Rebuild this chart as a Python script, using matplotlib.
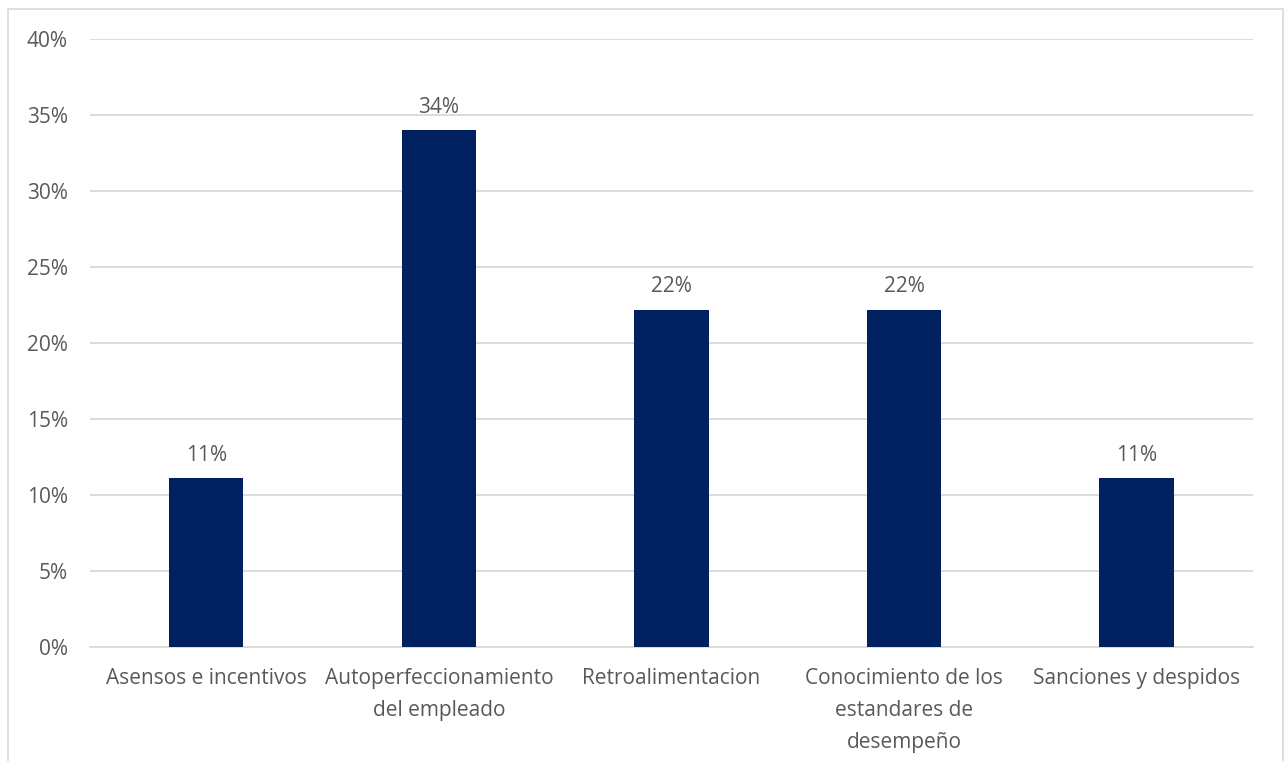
import matplotlib.pyplot as plt
from matplotlib.patches import Rectangle
from matplotlib.ticker import MultipleLocator, PercentFormatter

categories = ["Asensos e incentivos",
              "Autoperfeccionamiento\ndel empleado",
              "Retroalimentacion",
              "Conocimiento de los\nestandares de\ndesempeño",
              "Sanciones y despidos"]
shares = [0.111, 0.34, 0.222, 0.222, 0.111]

bar_color = "#002060"
text_color = "#595959"
grid_color = "#d9d9d9"

plt.rcParams['font.family'] = ['Open Sans', 'DejaVu Sans']

fig = plt.figure(figsize=(12.85, 7.61), dpi=100)
ax = fig.add_axes([0.0700, 0.1498, 0.9051, 0.7990])

# light frame round the whole chart
fig.patches.append(Rectangle((8 / 1285, -0.05), 1275 / 1285, 0.05 + 752 / 761,
                             transform=fig.transFigure, fill=False,
                             edgecolor=grid_color, linewidth=1.2))

x = range(len(categories))
bars = ax.bar(x, shares, width=0.32, color=bar_color, zorder=3)

for b, v in zip(bars, shares):
    ax.annotate(f"{v:.0%}", (b.get_x() + b.get_width() / 2, v),
                xytext=(0, 9), textcoords="offset points",
                ha="center", va="bottom", fontsize=15, color=text_color)

ax.set_xlim(-0.5, len(categories) - 0.5)
ax.set_ylim(0, 0.40)
ax.yaxis.set_major_locator(MultipleLocator(0.05))
ax.yaxis.set_major_formatter(PercentFormatter(1.0, decimals=0))
ax.set_xticks(list(x))
ax.set_xticklabels(categories, linespacing=1.7)

ax.grid(axis="y", color=grid_color, linewidth=1.3, zorder=0)
ax.tick_params(axis="y", length=0, pad=16, labelsize=15, labelcolor=text_color)
ax.tick_params(axis="x", length=0, pad=15, labelsize=15, labelcolor=text_color)
for s in ["top", "right", "left"]:
    ax.spines[s].set_visible(False)
ax.spines["bottom"].set_color(grid_color)
ax.spines["bottom"].set_linewidth(1.3)

plt.savefig("out.png", dpi=100)
